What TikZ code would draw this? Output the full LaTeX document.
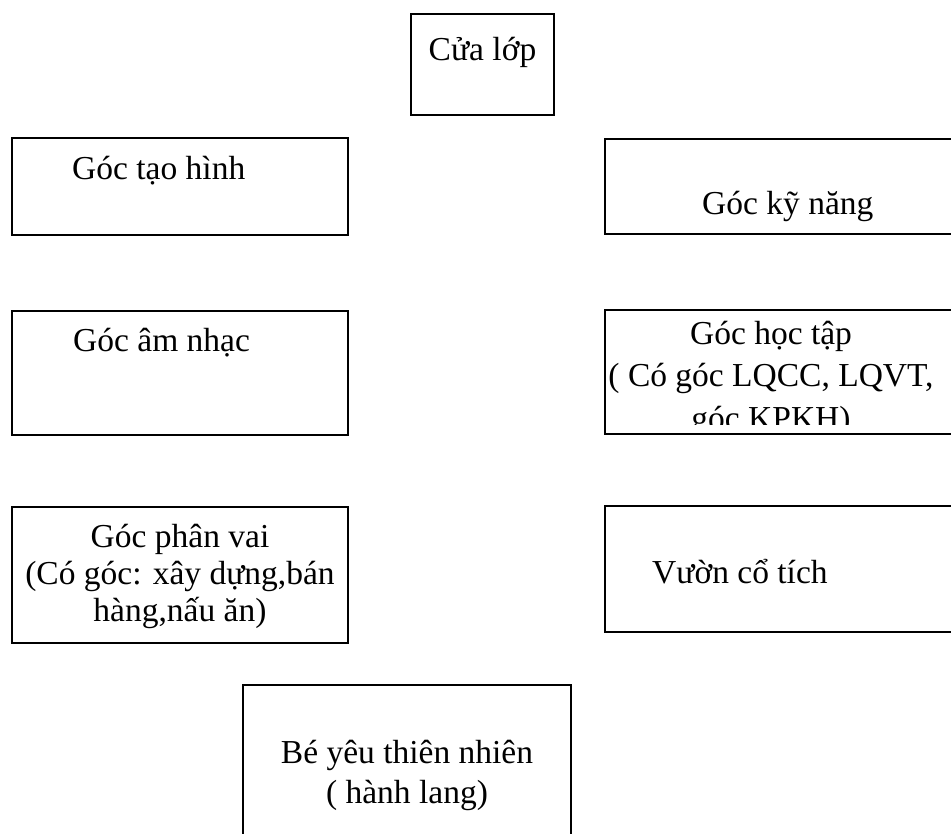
\documentclass[tikz,border=0pt]{standalone}
\usepackage{fontspec}
\setmainfont{Liberation Serif}
\begin{document}
\begin{tikzpicture}[x=1pt,y=-1pt,
  box/.style={draw=black,line width=1.6pt,rectangle,inner sep=0pt,fill=none},
  txt/.style={inner sep=0pt,font=\fontsize{33.5}{39}\selectfont}]
\useasboundingbox (0,0) rectangle (951,834);
\fill[white] (0,0) rectangle (951,834);
\clip (0,0) rectangle (951,834);
% boxes
\node[box,minimum width=143pt,minimum height=101pt] (cua) at (482.5,64.5) {};
\node[box,minimum width=336pt,minimum height=97pt] (taohinh) at (180,186.5) {};
\node[box,minimum width=355pt,minimum height=95pt] (kynang) at (782.5,186.5) {};
\node[box,minimum width=336pt,minimum height=124pt] (amnhac) at (180,373) {};
\node[box,minimum width=355pt,minimum height=124pt] (hoctap) at (782.5,372) {};
\node[box,minimum width=336pt,minimum height=136pt] (phanvai) at (180,575) {};
\node[box,minimum width=355pt,minimum height=126pt] (vuon) at (782.5,569) {};
\node[box,minimum width=328pt,minimum height=165pt] (beyeu) at (407,767.5) {};
% texts
\node[txt,anchor=base] (tcua) at (482.5,61) {Cửa lớp};
\node[txt,anchor=base west] (ttaohinh) at (72,180) {Góc tạo hình};
\node[txt,anchor=base west] (tkynang) at (702,215) {Góc kỹ năng};
\node[txt,anchor=base west] (tamnhac) at (73,352) {Góc âm nhạc};
\node[txt,anchor=base] (thoc1) at (771,345) {Góc học tập};
\node[txt,anchor=base] (thoc2) at (771,387) {( Có góc LQCC, LQVT,};
\begin{scope}
\clip (605,310) rectangle (951,424);
\node[txt,anchor=base] (thoc3) at (771,429) {góc KPKH)};
\end{scope}
\node[txt,anchor=base] (tpv1) at (180,547) {Góc phân vai};
\node[txt,anchor=base] (tpv2) at (180,584) {(Có góc: xây dựng,bán};
\node[txt,anchor=base] (tpv3) at (180,621) {hàng,nấu ăn)};
\node[txt,anchor=base west] (tvuon) at (652,583) {Vườn cổ tích};
\node[txt,anchor=base] (tbe1) at (407,763) {Bé yêu thiên nhiên};
\node[txt,anchor=base] (tbe2) at (407,803) {( hành lang)};
\end{tikzpicture}
\end{document}
